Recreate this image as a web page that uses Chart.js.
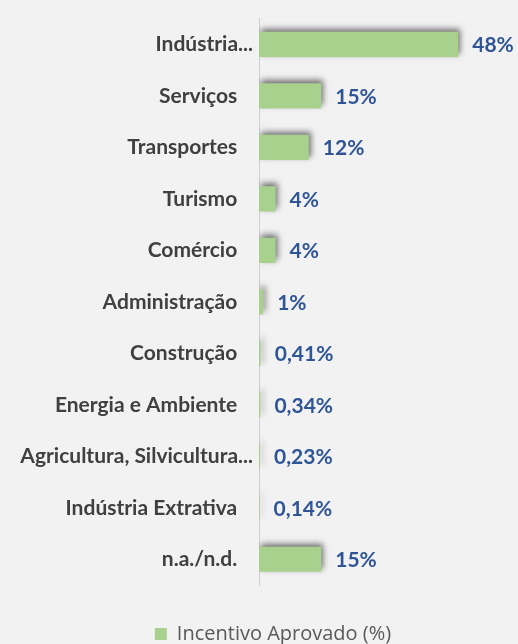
<!DOCTYPE html>
<html>
<head>
<meta charset="utf-8">
<script src="https://cdn.jsdelivr.net/npm/chart.js@4"></script>
<style>
  html, body { margin: 0; padding: 0; background: #f2f2f2; }
  #wrap { width: 518px; height: 644px; }
</style>
</head>
<body>
<div id="wrap"><canvas id="grafSetores"></canvas></div>
<script>
// setores de atividade
const setores = [
    'Indústria...', 'Serviços', 'Transportes', 'Turismo', 'Comércio',
    'Administração', 'Construção', 'Energia e Ambiente',
    'Agricultura, Silvicultura...', 'Indústria Extrativa', 'n.a./n.d.'
];
// incentivo aprovado (%)
const incentivo = [48, 15, 12, 4, 4, 1, 0.41, 0.34, 0.23, 0.14, 15];

const fmtPct = v => (Number.isInteger(v) ? v : v.toFixed(2)).toString().replace('.', ',') + '%';

// sombra das barras
const sombra = {
    id: 'sombra',
    beforeDatasetsDraw(chart) {
        const c = chart.ctx;
        c.save();
        c.shadowColor = 'rgba(0,0,0,0.55)';
        c.shadowBlur = 6;
        c.shadowOffsetX = 2;
        c.shadowOffsetY = -3;
    },
    afterDatasetsDraw(chart) {
        chart.ctx.restore();
    }
};

// rótulos de valor à direita das barras
const rotulos = {
    id: 'rotulos',
    afterDatasetsDraw(chart) {
        const c = chart.ctx;
        const meta = chart.getDatasetMeta(0);
        c.save();
        c.font = 'bold 21px Lato, "Open Sans", sans-serif';
        c.fillStyle = '#2f5597';
        c.textAlign = 'left';
        c.textBaseline = 'middle';
        meta.data.forEach((bar, i) => {
            c.fillText(fmtPct(incentivo[i]), bar.x + 14, bar.y + 1);
        });
        c.restore();
    }
};

// empurra a legenda um pouco para baixo e para a direita
const moveLegenda = {
    id: 'moveLegenda',
    afterLayout(chart) {
        const lg = chart.legend;
        lg.left += 19; lg.right += 19;
        lg.top += 10; lg.bottom += 10;
    }
};

new Chart(document.getElementById('grafSetores'), {
    type: 'bar',
    data: {
        labels: setores,
        datasets: [{
            label: 'Incentivo Aprovado (%)',
            data: incentivo,
            backgroundColor: '#a9d18e',
            borderWidth: 0,
            categoryPercentage: 1,
            barPercentage: 0.49
        }]
    },
    options: {
        indexAxis: 'y',
        responsive: true,
        maintainAspectRatio: false,
        animation: false,
        layout: { padding: { top: 18, right: 10, bottom: 0, left: 0 } },
        scales: {
            x: {
                min: 0,
                max: 60,
                // só espaço entre as barras e a legenda
                afterFit(scale) { scale.height = 27; },
                grid: { display: false },
                border: { display: false },
                ticks: { display: false }
            },
            y: {
                afterFit(scale) { scale.width = 259; },
                grid: { display: false, drawTicks: false },
                border: { display: true, color: '#d0d0d0', width: 1 },
                ticks: {
                    padding: 6,
                    color: '#404040',
                    font: { family: 'Lato, "Open Sans", sans-serif', size: 21, weight: 'bold' },
                    // rótulos truncados ficam mais perto do eixo, como no original
                    callback: (v, i) => setores[i].endsWith('...') ? setores[i] : setores[i] + '\u2002\u2005'
                }
            }
        },
        plugins: {
            legend: {
                position: 'bottom',
                labels: {
                    boxWidth: 12,
                    boxHeight: 12,
                    padding: 2,
                    color: '#595959',
                    font: { family: '"Open Sans", sans-serif', size: 20 }
                }
            },
            tooltip: { enabled: false }
        }
    },
    plugins: [sombra, rotulos, moveLegenda]
});
</script>
</body>
</html>
